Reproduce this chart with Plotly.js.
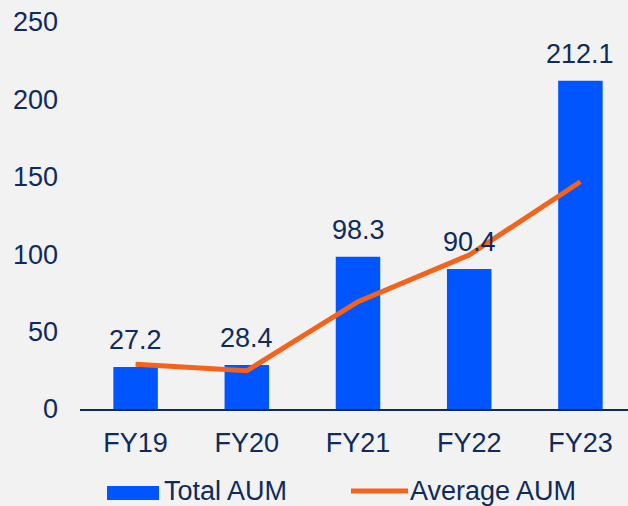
<!DOCTYPE html>
<html>
<head>
<meta charset="utf-8">
<script src="https://cdn.plot.ly/plotly-3.0.1.min.js"></script>
<style>html,body{margin:0;padding:0;background:#F2F2F2;}#chart{width:628px;height:506px;}</style>
</head>
<body>
<div id="chart"></div>
<script>
const categories = ["FY19", "FY20", "FY21", "FY22", "FY23"];
const totalAUM = [27.2, 28.4, 98.3, 90.4, 212.1];
const averageAUM = [28.9, 24.7, 69.3, 99.5, 146.8];
const totalLabels = ["27.2", "28.4", "98.3", "90.4", "212.1"];
const yTicks = [0, 50, 100, 150, 200, 250];
const seriesNames = ["Total AUM", "Average AUM"];

const textColor = "#0E2B5C";
const barColor = "#0055FF";
const lineColor = "#F5621B";
const font = {family: "Liberation Sans, Arial, sans-serif", size: 27, color: textColor};

const traces = [
  {type: "bar", x: categories, y: totalAUM, name: seriesNames[0], width: 0.4,
   marker: {color: barColor}, showlegend: false, hoverinfo: "skip"},
  {type: "scatter", mode: "lines", x: categories, y: averageAUM, name: seriesNames[1],
   line: {color: lineColor, width: 5}, showlegend: false, hoverinfo: "skip"}
];

const annotations = categories.map((c, i) => ({
  x: c, y: totalAUM[i], xref: "x", yref: "y", text: totalLabels[i],
  showarrow: false, yanchor: "bottom", yshift: 10, font: font
}));
annotations.push({xref: "paper", yref: "paper", x: 0.150, y: -0.2115, xanchor: "left", yanchor: "middle",
  text: seriesNames[0], showarrow: false, font: font});
annotations.push({xref: "paper", yref: "paper", x: 0.599, y: -0.2115, xanchor: "left", yanchor: "middle",
  text: seriesNames[1], showarrow: false, font: font});

const layout = {
  width: 628, height: 506,
  margin: {l: 80, r: 0, t: 22, b: 97, pad: 0},
  paper_bgcolor: "#F2F2F2", plot_bgcolor: "#F2F2F2",
  font: font,
  showlegend: false,
  bargap: 0.6,
  xaxis: {type: "category", range: [-0.5, 4.428], showgrid: false, zeroline: false,
    showline: true, linecolor: textColor, linewidth: 1.5, ticks: "", ticklabelstandoff: 9,
    tickfont: font, fixedrange: true},
  yaxis: {range: [0, 250], tickvals: yTicks, showgrid: false, zeroline: false, showline: false,
    ticks: "", ticklabelstandoff: 21, tickfont: font, fixedrange: true},
  annotations: annotations,
  shapes: [
    {type: "rect", xref: "paper", yref: "paper", x0: 0.0493, x1: 0.1442, y0: -0.2351, y1: -0.1990,
     fillcolor: barColor, line: {width: 0}},
    {type: "line", xref: "paper", yref: "paper", x0: 0.4945, x1: 0.5985, y0: -0.2118, y1: -0.2118,
     line: {color: lineColor, width: 5}}
  ]
};

Plotly.newPlot("chart", traces, layout, {displayModeBar: false, staticPlot: true});
</script>
</body>
</html>
